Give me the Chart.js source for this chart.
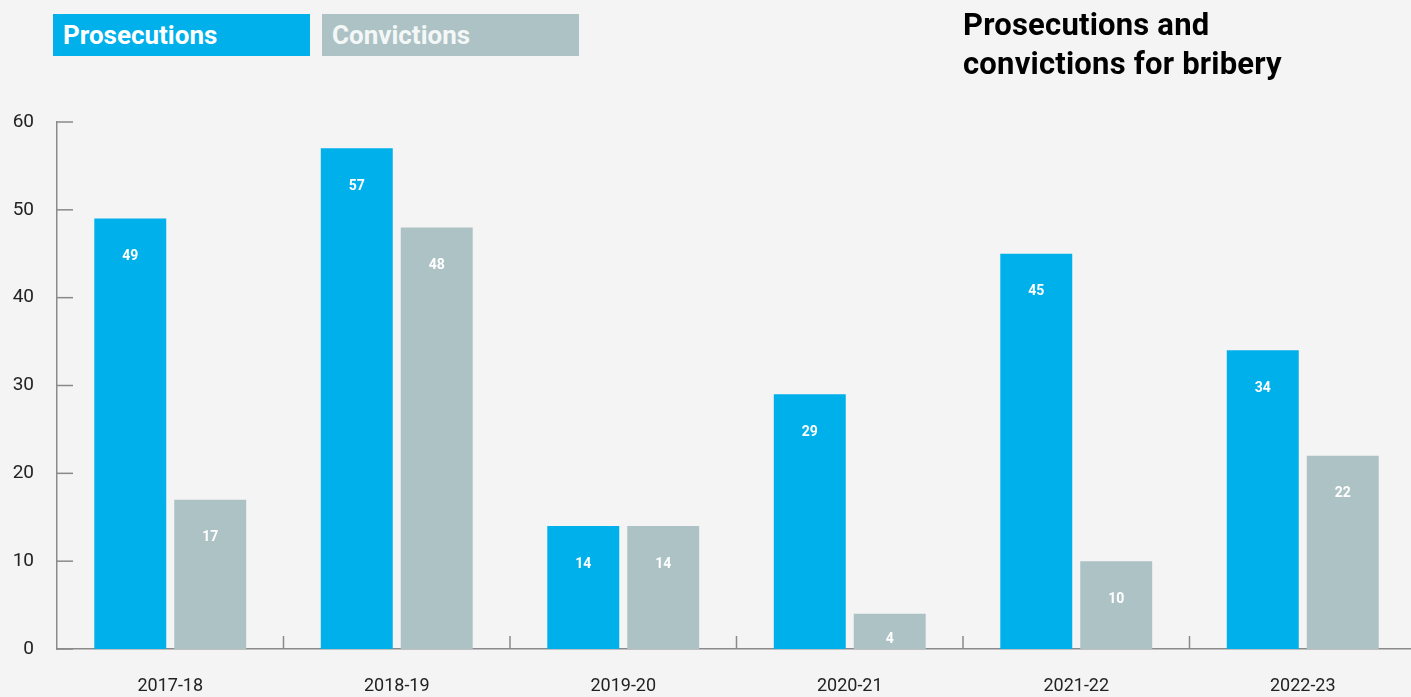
<!DOCTYPE html>
<html>
<head>
<meta charset="utf-8">
<script src="https://cdn.jsdelivr.net/npm/chart.js@4"></script>
<style>
    html, body { margin: 0; padding: 0; background: #f4f4f4; overflow: hidden; }
    #wrap { position: relative; width: 1411px; height: 697px; overflow: hidden; }
    #chart { position: absolute; left: 0; top: 0; }
    .key { position: absolute; top: 14px; width: 257px; height: 42px; color: #fff;
        font: bold 26px Roboto, sans-serif; line-height: 42px; box-sizing: border-box; padding-left: 10px; }
    #title { position: absolute; left: 963px; top: 5px; font: bold 31px Roboto, sans-serif;
        line-height: 39px; color: #000; letter-spacing: 0.2px; }
</style>
</head>
<body>
<div id="wrap">
    <canvas id="chart" width="1416" height="697"></canvas>
    <div class="key" style="left:53px;background:#00b0ea;">Prosecutions</div>
    <div class="key" style="left:322px;background:#adc2c4;color:#f4f7f7;">Convictions</div>
    <div id="title">Prosecutions and<br>convictions for bribery</div>
</div>
<script>
var years = ["2017-18", "2018-19", "2019-20", "2020-21", "2021-22", "2022-23"];
var prosecutions = [49, 57, 14, 29, 45, 34];
var convictions = [17, 48, 14, 4, 10, 22];
var yTicks = [0, 10, 20, 30, 40, 50, 60];

// inward tick marks + value labels inside the bars
var marksPlugin = {
    id: "marks",
    afterDatasetsDraw: function(chart) {
        var ctx = chart.ctx;
        var x = chart.scales.x, y = chart.scales.y;
        ctx.save();
        ctx.strokeStyle = "#8a8a8a";
        ctx.lineWidth = 1.5;
        yTicks.forEach(function(v) {
            var py = y.getPixelForValue(v);
            ctx.beginPath();
            ctx.moveTo(x.left, py);
            ctx.lineTo(x.left + 16, py);
            ctx.stroke();
        });
        for (var i = 1; i < years.length; i++) {
            var px = (x.getPixelForValue(i - 1) + x.getPixelForValue(i)) / 2;
            ctx.beginPath();
            ctx.moveTo(px, y.bottom);
            ctx.lineTo(px, y.bottom - 13);
            ctx.stroke();
        }
        ctx.fillStyle = "#fff";
        ctx.font = "bold 14px Roboto, sans-serif";
        ctx.textAlign = "center";
        ctx.textBaseline = "middle";
        chart.data.datasets.forEach(function(ds, di) {
            chart.getDatasetMeta(di).data.forEach(function(bar, i) {
                var ly = Math.min(bar.y + 38, y.bottom - 10);
                ctx.fillText(ds.data[i], bar.x, ly);
            });
        });
        ctx.restore();
    }
};

var ctx = document.getElementById("chart");
var myBarChart = new Chart(ctx, {
    type: "bar",
    data: {
        labels: years,
        datasets: [
            { label: "Prosecutions", data: prosecutions, backgroundColor: "#00b0ea" },
            { label: "Convictions", data: convictions, backgroundColor: "#adc2c4" }
        ]
    },
    options: {
        responsive: false,
        animation: false,
        categoryPercentage: 0.706,
        barPercentage: 0.9,
        layout: { padding: { top: 122, right: 0, left: 0, bottom: 0 } },
        plugins: { legend: { display: false }, tooltip: { enabled: false } },
        scales: {
            x: {
                grid: { display: false, drawTicks: false },
                border: { display: true, color: "#8a8a8a", width: 1.5 },
                ticks: { color: "#222", font: { family: "Roboto", size: 18 }, padding: 27 },
                afterFit: function(s) { s.height = 48; }
            },
            y: {
                min: 0,
                max: 60,
                grid: { display: false, drawTicks: false },
                border: { display: true, color: "#8a8a8a", width: 1.5 },
                ticks: { stepSize: 10, color: "#222", font: { family: "Roboto", size: 19 }, padding: 23 },
                afterFit: function(s) { s.width = 57; }
            }
        }
    },
    plugins: [marksPlugin]
});
</script>
</body>
</html>
